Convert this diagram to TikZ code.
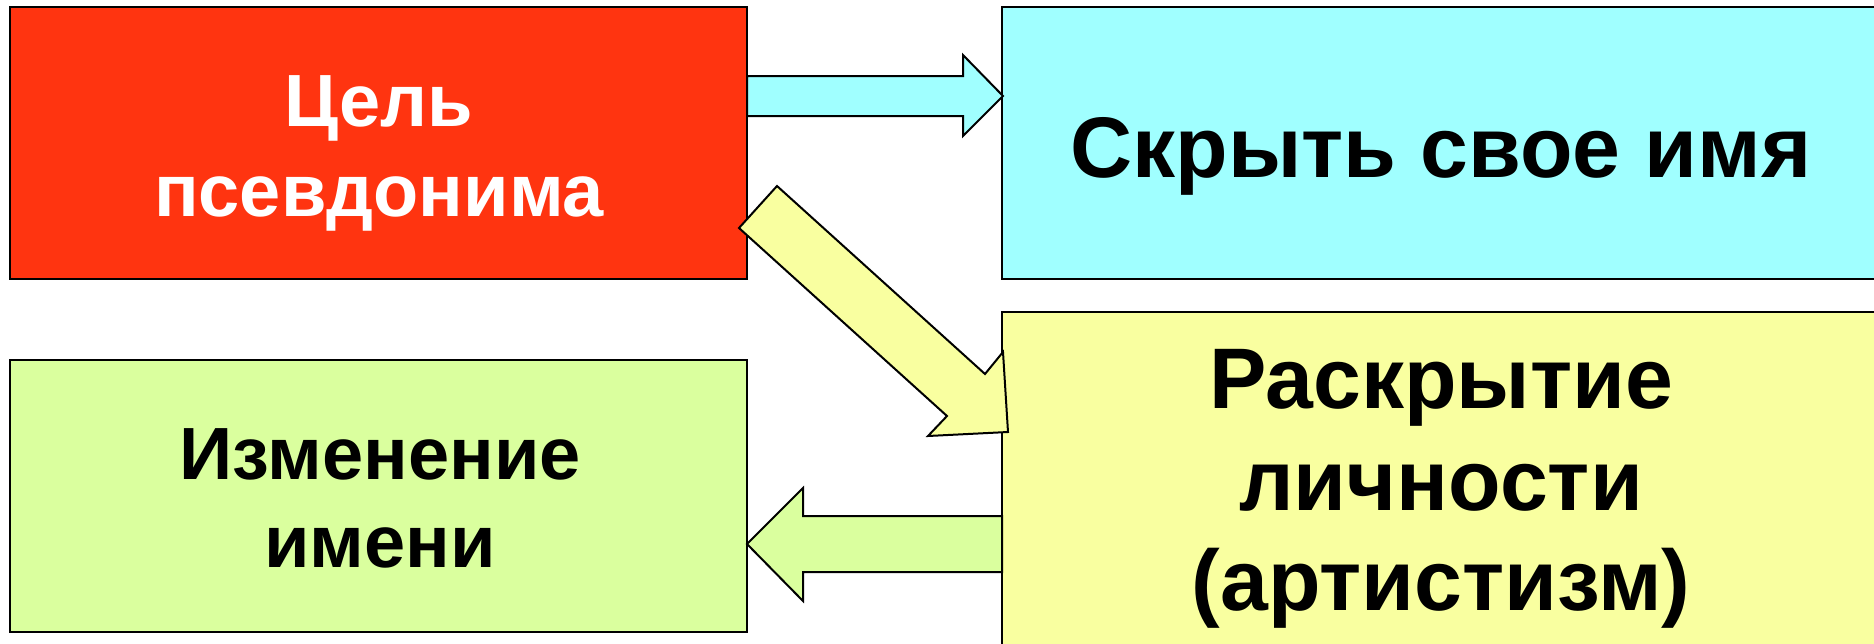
\documentclass[tikz,border=0pt]{standalone}
\usepackage{fontspec}
\setmainfont{Liberation Sans}
\definecolor{cRed}{HTML}{FF3410}
\definecolor{cCyan}{HTML}{A0FFFF}
\definecolor{cGreen}{HTML}{DAFF9E}
\definecolor{cYellow}{HTML}{F9FFA0}
\tikzset{
  box/.style={draw=black, line width=2pt},
  arrowshape/.style={draw=black, line width=2pt, line join=miter},
  txtA/.style={anchor=base, inner sep=0pt, font=\fontsize{74}{89}\selectfont\bfseries},
  txtB/.style={anchor=base, inner sep=0pt, font=\fontsize{86}{100}\selectfont\bfseries},
}
\begin{document}
\begin{tikzpicture}[x=1pt,y=-1pt]
\useasboundingbox (0,0) rectangle (1874,643);
% boxes
\fill[white] (0,0) rectangle (1874,643);
\filldraw[box, fill=cRed] (10,7) rectangle (747,279);
\filldraw[box, fill=cCyan] (1002,7) rectangle (1885,279);
\filldraw[box, fill=cGreen] (10,360) rectangle (747,632);
\filldraw[box, fill=cYellow] (1002,312) rectangle (1885,660);
\coordinate (redc) at (378.5,143);
% arrows
\filldraw[arrowshape, fill=cCyan] (747,76) -- (963,76) -- (963,55) -- (1003,96) -- (963,136) -- (963,116) -- (747,116) -- cycle;
\filldraw[arrowshape, fill=cGreen] (747,544) -- (803,488) -- (803,516) -- (1002,516) -- (1002,572) -- (803,572) -- (803,601) -- cycle;
\filldraw[arrowshape, fill=cYellow] (777,186) -- (985,374) -- (1003,352) -- (1008,432) -- (928,436) -- (947,416) -- (739,228) -- cycle;
% texts
\node[txtA, text=white] (r1) at (379,126) {Цель};
\node[txtA, text=white] (r2) at (379,216) {псевдонима};
\node[txtB] (c1) at (1441,177) {Скрыть свое имя};
\node[txtA] (g1) at (380,479) {Изменение};
\node[txtA] (g2) at (380,567) {имени};
\node[txtB] (y1) at (1441,408) {Раскрытие};
\node[txtB] (y2) at (1441,510) {личности};
\node[txtB] (y3) at (1441,610) {(артистизм)};
\end{tikzpicture}
\end{document}
